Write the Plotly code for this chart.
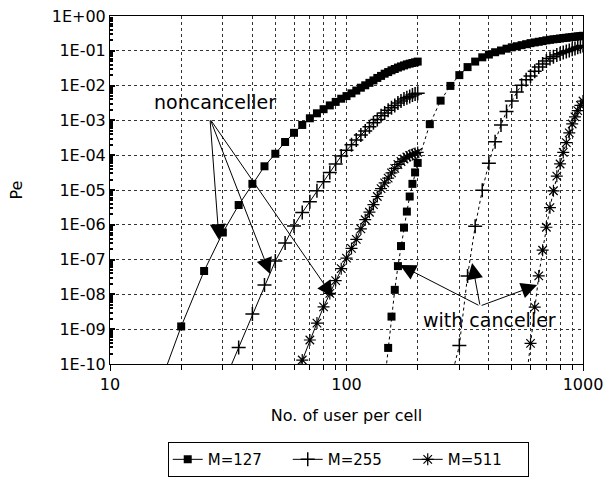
import plotly.graph_objects as go

# ---------------- data ----------------
# Noncanceller curves
x_nc127 = list(range(15, 205, 5))
pe_nc127 = [5.8e-12, 1.2e-9, 4.7e-8, 6.0e-7, 3.7e-6, 1.5e-5, 4.8e-5, 1.1e-4, 2.4e-4, 4.4e-4,
            7.4e-4, 1.15e-3, 1.6e-3, 2.1e-3, 2.7e-3, 3.4e-3, 4.2e-3, 5.0e-3, 6.0e-3, 7.2e-3,
            8.7e-3, 1.02e-2, 1.2e-2, 1.41e-2, 1.66e-2, 1.9e-2, 2.2e-2, 2.45e-2, 2.75e-2, 3.0e-2,
            3.3e-2, 3.55e-2, 3.8e-2, 4.07e-2, 4.27e-2, 4.47e-2, 4.68e-2, 4.9e-2]

x_nc255 = list(range(30, 205, 5))
pe_nc255 = [2.5e-11, 3.0e-10, 2.75e-9, 1.86e-8, 9.1e-8, 3.0e-7, 9.3e-7, 2.24e-6, 4.6e-6, 9.5e-6,
            1.74e-5, 3.2e-5, 5.6e-5, 9.5e-5, 1.38e-4, 2.0e-4, 2.75e-4, 3.8e-4, 5.0e-4, 6.6e-4,
            8.5e-4, 1.07e-3, 1.35e-3, 1.62e-3, 1.95e-3, 2.3e-3, 2.7e-3, 3.16e-3, 3.6e-3, 4.1e-3,
            4.5e-3, 4.9e-3, 5.4e-3, 5.75e-3, 6.0e-3]

x_nc511 = list(range(60, 205, 5))
pe_nc511 = [3.2e-11, 1.3e-10, 4.9e-10, 1.5e-9, 4.4e-9, 1.07e-8, 2.5e-8, 5.5e-8, 1.1e-7, 2.1e-7,
            3.8e-7, 7.6e-7, 1.4e-6, 2.3e-6, 3.8e-6, 6.5e-6, 1.1e-5, 1.6e-5, 2.2e-5, 3.1e-5,
            4.2e-5, 5.4e-5, 6.6e-5, 7.8e-5, 8.9e-5, 9.8e-5, 1.05e-4, 1.12e-4, 1.2e-4]

# With-canceller curves
x_c127 = list(range(145, 205, 5)) + list(range(225, 1025, 25))
pe_c127 = [3.2e-11, 2.9e-10, 2.3e-9, 1.35e-8, 6.5e-8, 2.45e-7, 8.3e-7, 2.4e-6, 6.5e-6, 1.5e-5,
           3.2e-5, 6.0e-5, 7.8e-4, 3.7e-3, 9.8e-3, 2.0e-2, 3.4e-2, 4.9e-2, 6.5e-2, 7.8e-2,
           9.1e-2, 1.02e-1, 1.15e-1, 1.26e-1, 1.35e-1, 1.45e-1, 1.55e-1, 1.66e-1, 1.74e-1, 1.82e-1,
           1.9e-1, 2.0e-1, 2.07e-1, 2.14e-1, 2.19e-1, 2.26e-1, 2.32e-1, 2.37e-1, 2.43e-1, 2.48e-1,
           2.54e-1, 2.6e-1, 2.64e-1, 2.7e-1]

x_c255 = list(range(275, 1025, 25))
pe_c255 = [3.2e-11, 3.4e-10, 3.4e-8, 9.1e-7, 9.8e-6, 5.9e-5, 2.45e-4, 7.4e-4, 1.8e-3, 3.6e-3,
           6.5e-3, 1.02e-2, 1.48e-2, 1.9e-2, 2.6e-2, 3.4e-2, 4.2e-2, 5.1e-2, 6.0e-2, 6.8e-2,
           7.6e-2, 8.2e-2, 8.9e-2, 9.5e-2, 1.02e-1, 1.11e-1, 1.17e-1, 1.26e-1, 1.33e-1, 1.41e-1]

x_c511 = list(range(575, 1025, 25))
pe_c511 = [3.5e-11, 3.9e-10, 4.3e-9, 3.4e-8, 1.86e-7, 8.5e-7, 3.1e-6, 9.5e-6, 2.5e-5, 5.6e-5,
           1.2e-4, 2.3e-4, 4.4e-4, 7.9e-4, 1.26e-3, 1.9e-3, 2.7e-3, 3.6e-3]

series_names = ["M=127", "M=255", "M=511"]

x_tickvals = [10, 100, 1000]
x_ticktext = ["10", "100", "1000"]
x_minorvals = [20, 30, 40, 50, 60, 70, 80, 90, 200, 300, 400, 500, 600, 700, 800, 900]
y_tickvals = [1e0, 1e-1, 1e-2, 1e-3, 1e-4, 1e-5, 1e-6, 1e-7, 1e-8, 1e-9, 1e-10]
y_ticktext = ["1E+00", "1E-01", "1E-02", "1E-03", "1E-04", "1E-05", "1E-06",
              "1E-07", "1E-08", "1E-09", "1E-10"]
y_minorvals = [m * d for d in y_tickvals[1:] for m in range(2, 10)]

FONT = "DejaVu Sans"

# ---------------- figure ----------------
fig = go.Figure()

marker_styles = [
    dict(symbol="square", size=8, color="black"),
    dict(symbol="cross-thin-open", size=10, color="black", line=dict(width=1.5, color="black")),
    dict(symbol="asterisk-open", size=10, color="black", line=dict(width=1.2, color="black")),
]

nc_sets = [(x_nc127, pe_nc127), (x_nc255, pe_nc255), (x_nc511, pe_nc511)]
c_sets = [(x_c127, pe_c127), (x_c255, pe_c255), (x_c511, pe_c511)]

for name, (xs, ys), mk in zip(series_names, nc_sets, marker_styles):
    fig.add_trace(go.Scatter(x=xs, y=ys, mode="lines+markers", name=name, legendgroup=name,
                             line=dict(color="black", width=1), marker=mk))
for name, (xs, ys), mk in zip(series_names, c_sets, marker_styles):
    fig.add_trace(go.Scatter(x=xs, y=ys, mode="lines+markers", name=name, legendgroup=name,
                             showlegend=False,
                             line=dict(color="black", width=1, dash="dot"), marker=mk))

grid_color = "#333333"

fig.update_xaxes(
    type="log", range=[1, 3],
    tickmode="array", tickvals=x_tickvals, ticktext=x_ticktext,
    ticks="outside", ticklen=6, tickwidth=1, tickcolor="black",
    showline=True, linecolor="black", linewidth=1, mirror=True,
    showgrid=True, gridcolor=grid_color, griddash="dot", gridwidth=1,
    minor=dict(tickmode="array", tickvals=x_minorvals, ticks="outside", ticklen=5,
               tickcolor="black", showgrid=True, gridcolor=grid_color, griddash="dot", gridwidth=1),
    tickfont=dict(family=FONT, size=16, color="black"),
    title=dict(text="No. of user per cell", font=dict(family=FONT, size=16, color="black"), standoff=16),
    zeroline=False, automargin=False,
)
fig.update_yaxes(
    type="log", range=[-10, 0],
    tickmode="array", tickvals=y_tickvals, ticktext=y_ticktext,
    ticks="inside", ticklen=5, tickwidth=2, tickcolor="black",
    showline=True, linecolor="black", linewidth=1, mirror=True,
    showgrid=True, gridcolor=grid_color, griddash="dot", gridwidth=1,
    minor=dict(tickmode="array", tickvals=y_minorvals, ticks="inside", ticklen=3,
               tickcolor="black", showgrid=False),
    tickfont=dict(family=FONT, size=16, color="black"),
    title=dict(text="Pe", font=dict(family=FONT, size=16, color="black"), standoff=25),
    zeroline=False, automargin=False,
)

# text labels
fig.add_annotation(xref="paper", yref="paper", x=0.222, y=0.753, text="noncanceller",
                   xanchor="center", yanchor="middle",
                   showarrow=False, font=dict(family=FONT, size=19, color="black"))
fig.add_annotation(xref="paper", yref="paper", x=0.803, y=0.126, text="with canceller",
                   xanchor="center", yanchor="middle",
                   showarrow=False, font=dict(family=FONT, size=19, color="black"))

# arrows: tip in data (log10) coordinates, tail as pixel offset
arrow_tips = [(1.461, -6.437, -9, -121), (1.677, -7.414, -60, -155), (1.943, -8.075, -123, -178),
              (2.226, -7.155, 80, 41), (2.531, -7.098, 8, 43), (2.806, -7.73, -57, 21)]
for ax_, ay_, dx, dy in arrow_tips:
    fig.add_annotation(xref="x", yref="y", x=ax_, y=ay_, ax=dx, ay=dy, text="",
                       showarrow=True, arrowhead=2, arrowsize=3.2, arrowwidth=1,
                       arrowcolor="black")

fig.update_layout(
    width=612, height=480,
    margin=dict(l=110, r=29, t=16, b=116),
    paper_bgcolor="white", plot_bgcolor="white",
    font=dict(family=FONT, color="black"),
    legend=dict(orientation="h", xref="container", yref="container",
                x=0.569, xanchor="center", y=0.079, yanchor="top",
                bordercolor="black", borderwidth=1, font=dict(family=FONT, size=15, color="black"),
                bgcolor="white", entrywidth=75, entrywidthmode="pixels"),
)

fig.write_html("out.html")
